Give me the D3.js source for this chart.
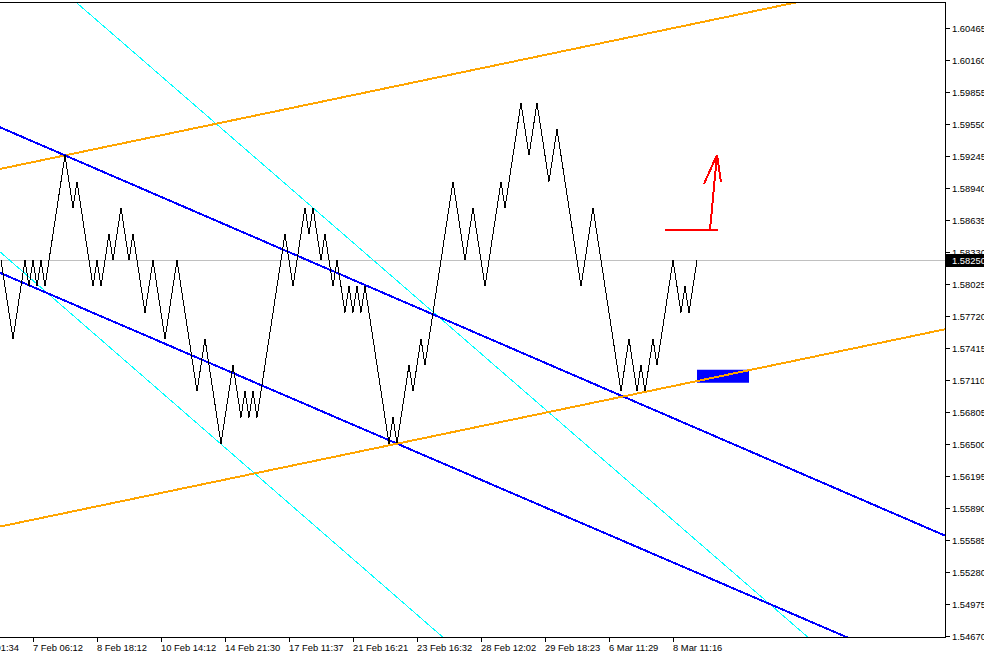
<!DOCTYPE html>
<html><head><meta charset="utf-8">
<script src="https://cdn.jsdelivr.net/npm/d3@7"></script>
<style>html,body{margin:0;padding:0;background:#fff;overflow:hidden}</style>
</head><body>
<svg id="c" width="984" height="655"></svg>
<script>
// ---- data ----
// renko-style close line: turning points (bar index, price)
const pivotBars = [0,3,6,7,8,9,10,11,16,18,19,23,24,25,27,28,30,32,33,36,38,41,44,49,51,55,58,60,61,62,63,64,
  71,73,76,77,78,80,81,83,84,86,87,88,89,90,91,97,98,99,102,103,105,106,113,116,118,121,125,126,130,132,134,
  137,139,145,148,155,157,159,160,161,163,164,168,170,171,172,174];
const pivotPrices = [1.5825,1.5750,1.5825,1.5800,1.5825,1.5800,1.5825,1.5800,1.5925,1.5875,1.5900,1.5800,1.5825,1.5800,
  1.5850,1.5825,1.5875,1.5825,1.5850,1.5775,1.5825,1.5750,1.5825,1.5700,1.5750,1.5650,1.5725,1.5675,1.5700,1.5675,1.5700,1.5675,
  1.5850,1.5800,1.5875,1.5850,1.5875,1.5825,1.5850,1.5800,1.5825,1.5775,1.5800,1.5775,1.5800,1.5775,1.5800,1.5650,1.5675,1.5650,
  1.5725,1.5700,1.5750,1.5725,1.5900,1.5825,1.5875,1.5800,1.5900,1.5875,1.5975,1.5925,1.5975,
  1.5900,1.5950,1.5800,1.5875,1.5700,1.5750,1.5700,1.5725,1.5700,1.5750,1.5725,1.5825,1.5775,1.5800,1.5775,1.5825];
const currentPrice = 1.58250;

const dateBars   = [-8, 8, 24, 40, 56, 72, 88, 104, 120, 136, 152, 168];
const dateLabels = ["6 Feb 01:34","7 Feb 06:12","8 Feb 18:12","10 Feb 14:12","14 Feb 21:30","17 Feb 11:37",
  "21 Feb 16:21","23 Feb 16:32","28 Feb 12:02","29 Feb 18:23","6 Mar 11:29","8 Mar 11:16"];

const priceTickLabels = ["1.54670","1.54975","1.55280","1.55585","1.55890","1.56195","1.56500","1.56805","1.57110",
  "1.57415","1.57720","1.58025","1.58330","1.58635","1.58940","1.59245","1.59550","1.59855","1.60160","1.60465"];

// trend lines: two anchor points [bar, price]
const orangeLines = [[[16,1.5925],[198,1.60703]], [[-0.25,1.55709],[236,1.57591]]];
const blueLines   = [[[16,1.5925],[236,1.55623]], [[-0.25,1.58130],[211,1.54661]]];
const cyanLines   = [[[19,1.60703],[201.5,1.54661]], [[-0.25,1.58330],[110.25,1.54661]]];

// objects
const blueRect = {bar0:174, bar1:187, p0:1.57205, p1:1.57081};
const redArrow = [
  [[166,1.58540],[179.25,1.58540]],
  [[177.25,1.58540],[179,1.59255]],
  [[175.75,1.58978],[179,1.59255]],
  [[180,1.58997],[179,1.59255]]
];

// ---- drawing ----
const svg = d3.select("#c");
const L = 0, R = 945.5, T = 2.5, B = 637.5;
const x = d3.scaleLinear().domain([0, 236]).range([1, 945]);
const y = d3.scaleLinear().domain([1.54670, 1.60465]).range([635.5, 28]);

svg.append("defs").append("clipPath").attr("id","plot")
  .append("rect").attr("x",0).attr("y",T).attr("width",R).attr("height",B-T);

const g = svg.append("g").attr("clip-path","url(#plot)");

// current price line
g.append("line").attr("x1",0).attr("x2",R).attr("y1",Math.round(y(currentPrice))+0.5).attr("y2",Math.round(y(currentPrice))+0.5)
  .attr("stroke","#c0c0c0").attr("stroke-width",1).attr("shape-rendering","crispEdges");

function drawTrend(anchors, color, w) {
  const [[b0,p0],[b1,p1]] = anchors;
  const xa = x(b0), ya = y(p0), xb = x(b1), yb = y(p1);
  const s = (yb-ya)/(xb-xa);
  const X0 = -50, X1 = 1000;
  g.append("line").attr("x1",X0).attr("y1",ya+s*(X0-xa)).attr("x2",X1).attr("y2",ya+s*(X1-xa))
    .attr("stroke",color).attr("stroke-width",w).attr("shape-rendering","crispEdges");
}
cyanLines.forEach(a => drawTrend(a, "#00ffff", 1));
orangeLines.forEach(a => drawTrend(a, "#ffa500", 2));
blueLines.forEach(a => drawTrend(a, "#0000ff", 2));

// zigzag line
const pts = pivotBars.map((b,i)=>[b, pivotPrices[i]]);
g.append("path").datum(pts)
  .attr("d", d3.line().x(d=>x(d[0])).y(d=>y(d[1])))
  .attr("fill","none").attr("stroke","#000").attr("stroke-width",1).attr("shape-rendering","crispEdges");

// blue rectangle
g.append("rect").attr("x",x(blueRect.bar0)).attr("y",y(blueRect.p0))
  .attr("width",x(blueRect.bar1)-x(blueRect.bar0)).attr("height",y(blueRect.p1)-y(blueRect.p0))
  .attr("fill","#0000ff");
// redraw orange lower over rect
drawTrend(orangeLines[1], "#ffa500", 2);

// red arrow
redArrow.forEach(s => {
  g.append("line").attr("x1",x(s[0][0])).attr("y1",y(s[0][1])).attr("x2",x(s[1][0])).attr("y2",y(s[1][1]))
    .attr("stroke","#ff0000").attr("stroke-width",2).attr("shape-rendering","crispEdges");
});

// frame
svg.append("path").attr("d",`M0,${T}H${R}V${B}H0`).attr("fill","none").attr("stroke","#000").attr("stroke-width",1)
  .attr("shape-rendering","crispEdges");

const FONT = "'Liberation Sans', Arial, sans-serif";

// price axis
const yTickVals = priceTickLabels.map(Number);
const yAxis = d3.axisRight(y).tickValues(yTickVals).tickFormat((d,i)=>priceTickLabels[i]).tickSize(4).tickPadding(2.5);
const ya = svg.append("g").attr("transform",`translate(${R},0)`).call(yAxis);
ya.select(".domain").remove();
ya.selectAll(".tick").attr("transform", d => `translate(0,${Math.round(y(d))+0.5})`);
ya.selectAll(".tick line").attr("stroke","#000").attr("shape-rendering","crispEdges");
ya.selectAll(".tick text").attr("fill","#000").style("font-family",FONT).style("font-size","9.4px").attr("dy","0.34em");

// current price label
const cy = Math.round(y(currentPrice))+0.5;
svg.append("rect").attr("x",946).attr("y",cy-6.5).attr("width",38).attr("height",13).attr("fill","#000");
svg.append("text").attr("x",952).attr("y",cy).attr("dy","0.34em").text(currentPrice.toFixed(5))
  .attr("fill","#fff").style("font-family",FONT).style("font-size","9.4px");

// date axis
const xAxis = d3.axisBottom(x).tickValues(dateBars).tickFormat((d,i)=>dateLabels[i]).tickSize(4);
const xa = svg.append("g").attr("transform",`translate(0,${B})`).call(xAxis);
xa.select(".domain").remove();
xa.selectAll(".tick").attr("transform", d => `translate(${Math.round(x(d))+0.5},0)`);
xa.selectAll(".tick line").attr("stroke","#000").attr("shape-rendering","crispEdges");
xa.selectAll(".tick text").attr("fill","#000").attr("text-anchor","start").attr("x",-0.5).attr("y",13.5).attr("dy",null)
  .style("font-family",FONT).style("font-size","9.4px");
</script>
</body></html>
